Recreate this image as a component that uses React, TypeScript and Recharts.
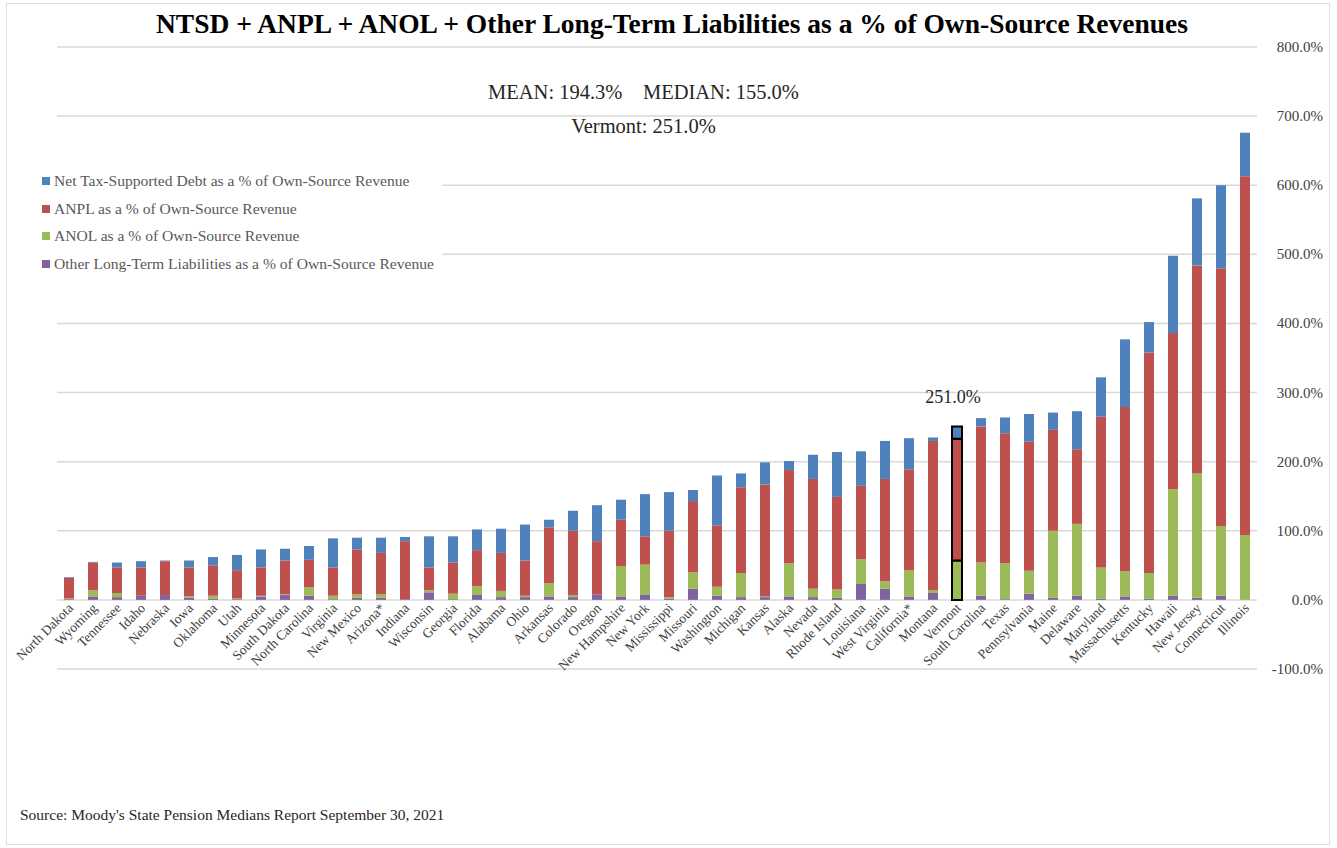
import { BarChart, Bar, XAxis, YAxis, CartesianGrid, Cell, LabelList } from "recharts";

const states = [
  "North Dakota", "Wyoming", "Tennessee", "Idaho", "Nebraska", "Iowa", "Oklahoma", "Utah", "Minnesota", "South Dakota",
  "North Carolina", "Virginia", "New Mexico", "Arizona*", "Indiana", "Wisconsin", "Georgia", "Florida", "Alabama", "Ohio",
  "Arkansas", "Colorado", "Oregon", "New Hampshire", "New York", "Mississippi", "Missouri", "Washington", "Michigan", "Kansas",
  "Alaska", "Nevada", "Rhode Island", "Louisiana", "West Virginia", "California*", "Montana", "Vermont", "South Carolina", "Texas",
  "Pennsylvania", "Maine", "Delaware", "Maryland", "Massachusetts", "Kentucky", "Hawaii", "New Jersey", "Connecticut", "Illinois",
];

// Net tax-supported debt
const ntsd = [
  1, 1, 7, 9, 1, 10, 12, 22, 26, 17,
  20, 42, 17, 22, 6, 45, 38, 30, 35, 52,
  11, 29, 52, 29, 61, 56, 16, 72, 20, 32,
  13, 35, 65, 50, 55, 45, 5, 18, 12, 23,
  40, 25, 55, 57, 98, 44, 112, 97, 120, 63,
];

const anpl = [
  30, 40, 37, 41, 49, 42, 44, 41, 41, 49,
  40, 41, 65, 60, 84, 33, 45, 52, 55, 51,
  81, 93, 77, 67, 41, 96, 103, 89, 124, 162,
  135, 159, 134, 106, 148, 146, 216, 176, 197, 188,
  187, 146, 108, 218, 238, 319, 226, 301, 373, 519,
];

const anol = [
  1, 9, 6, 0, 0, 2, 4, 1, 1, 1,
  12, 5, 5, 5, 0, 3, 8, 12, 9, 2,
  19, 3, 0, 44, 43, 2, 24, 13, 35, 1,
  48, 12, 12, 36, 11, 38, 4, 57, 48, 52,
  33, 97, 104, 45, 36, 37, 154, 180, 101, 94,
];

const other = [
  1, 5, 4, 6, 7, 3, 2, 1, 5, 7,
  6, 1, 3, 3, 1, 11, 1, 8, 4, 4,
  5, 4, 8, 5, 8, 2, 16, 6, 4, 4,
  5, 4, 3, 23, 16, 5, 10, 0, 6, 1,
  9, 3, 6, 2, 5, 2, 6, 3, 6, 0,
];

const yTicks = [-100, 0, 100, 200, 300, 400, 500, 600, 700, 800];

const MEAN = 194.3;
const MEDIAN = 155.0;
const HIGHLIGHT = "Vermont";
const FONT = '"Liberation Serif", "Times New Roman", serif';

const series = [
  { key: "ntsd", name: "Net Tax-Supported Debt as a % of Own-Source Revenue", color: "#4F81BD" },
  { key: "anpl", name: "ANPL as a % of Own-Source Revenue", color: "#C0504D" },
  { key: "anol", name: "ANOL as a % of Own-Source Revenue", color: "#9BBB59" },
  { key: "other", name: "Other Long-Term Liabilities as a % of Own-Source Revenue", color: "#8064A2" },
];

const data = states.map((state, i) => ({
  state,
  ntsd: ntsd[i],
  anpl: anpl[i],
  anol: anol[i],
  other: other[i],
  total: ntsd[i] + anpl[i] + anol[i] + other[i],
}));

const W = 1337;
const H = 848;
const PLOT_TOP = 47;
const PLOT_BOTTOM = 669;
const PLOT_LEFT = 57;
const Y_AXIS_W = 80;
const X_AXIS_H = 20;
// category axis sits on the 0% line, not at the bottom of the plot
const zeroY = PLOT_TOP + (800 / 900) * (PLOT_BOTTOM - PLOT_TOP);

const StateTick = (props: any) => {
  const { x, payload } = props;
  const tx = x + 5;
  const ty = zeroY + 9;
  return (
    <text
      x={tx}
      y={ty}
      transform={`rotate(-45, ${tx}, ${ty})`}
      textAnchor="end"
      fontFamily={FONT}
      fontSize={13.5}
      fill="#404040"
    >
      {payload.value}
    </text>
  );
};

const PctTick = (props: any) => {
  const { x, y, payload } = props;
  return (
    <text x={x + 58} y={y + 5} textAnchor="end" fontFamily={FONT} fontSize={15} fill="#404040">
      {`${payload.value.toFixed(1)}%`}
    </text>
  );
};

const HighlightLabel = (props: any) => {
  const { x, y, width, index } = props;
  if (states[index] !== HIGHLIGHT) return null;
  return (
    <text x={x + width / 2 - 4} y={y - 23} textAnchor="middle" fontFamily={FONT} fontSize={18} fill="#262626">
      {`${data[index].total.toFixed(1)}%`}
    </text>
  );
};

const stackOrder = ["other", "anol", "anpl", "ntsd"];

const App = () => {
  const vt = data.find((d) => d.state === HIGHLIGHT)!;
  return (
    <div style={{ position: "absolute", left: 0, top: 0, width: W, height: H, background: "#fff", fontFamily: FONT }}>
      <div
        style={{
          position: "absolute",
          left: 6,
          top: 3,
          width: 1324,
          height: 842,
          border: "1px solid #e0e0e0",
          boxSizing: "border-box",
        }}
      />
      <BarChart
        width={W}
        height={H}
        data={data}
        margin={{ top: PLOT_TOP, right: 0, bottom: H - PLOT_BOTTOM - X_AXIS_H, left: PLOT_LEFT }}
        barSize={10}
      >
        <CartesianGrid vertical={false} stroke="#d9d9d9" strokeWidth={1.5} />
        <XAxis
          dataKey="state"
          interval={0}
          axisLine={false}
          tickLine={false}
          height={X_AXIS_H}
          tick={<StateTick />}
        />
        <YAxis
          orientation="right"
          width={Y_AXIS_W}
          domain={[-100, 800]}
          ticks={yTicks}
          axisLine={false}
          tickLine={false}
          tick={<PctTick />}
        />
        {stackOrder.map((k) => {
          const s = series.find((x) => x.key === k)!;
          return (
            <Bar key={k} dataKey={k} stackId="a" fill={s.color} isAnimationActive={false}>
              {data.map((d) => (
                <Cell
                  key={d.state}
                  stroke={d.state === HIGHLIGHT ? "#000" : "none"}
                  strokeWidth={d.state === HIGHLIGHT ? 2 : 0}
                />
              ))}
              {k === "ntsd" && <LabelList dataKey="total" content={<HighlightLabel />} />}
            </Bar>
          );
        })}
      </BarChart>

      <div
        style={{
          position: "absolute",
          left: 0,
          top: 8,
          width: 1344,
          textAlign: "center",
          fontSize: 27.5,
          fontWeight: "bold",
          color: "#000",
          whiteSpace: "nowrap",
        }}
      >
        NTSD + ANPL + ANOL + Other Long-Term Liabilities as a % of Own-Source Revenues
      </div>
      <div style={{ position: "absolute", left: 0, top: 81, width: 1287, textAlign: "center", fontSize: 20.5, color: "#262626", whiteSpace: "pre" }}>
        {`MEAN: ${MEAN.toFixed(1)}%    MEDIAN: ${MEDIAN.toFixed(1)}%`}
      </div>
      <div style={{ position: "absolute", left: 0, top: 115, width: 1287, textAlign: "center", fontSize: 20.5, color: "#262626" }}>
        {`Vermont: ${vt.total.toFixed(1)}%`}
      </div>

      <div style={{ position: "absolute", left: 36, top: 170, width: 406, height: 104, background: "#fff" }}>
        {series.map((s, i) => (
          <div
            key={s.key}
            style={{
              position: "absolute",
              left: 6,
              top: i * 27.5,
              height: 22,
              display: "flex",
              alignItems: "center",
              fontSize: 15.6,
              color: "#595959",
              whiteSpace: "nowrap",
            }}
          >
            <span style={{ display: "inline-block", width: 8, height: 8, background: s.color, marginRight: 4 }} />
            {s.name}
          </div>
        ))}
      </div>

      <div style={{ position: "absolute", left: 20, top: 806, fontSize: 15.5, color: "#262626", whiteSpace: "nowrap" }}>
        Source: Moody's State Pension Medians Report September 30, 2021
      </div>
    </div>
  );
};

export default App;
